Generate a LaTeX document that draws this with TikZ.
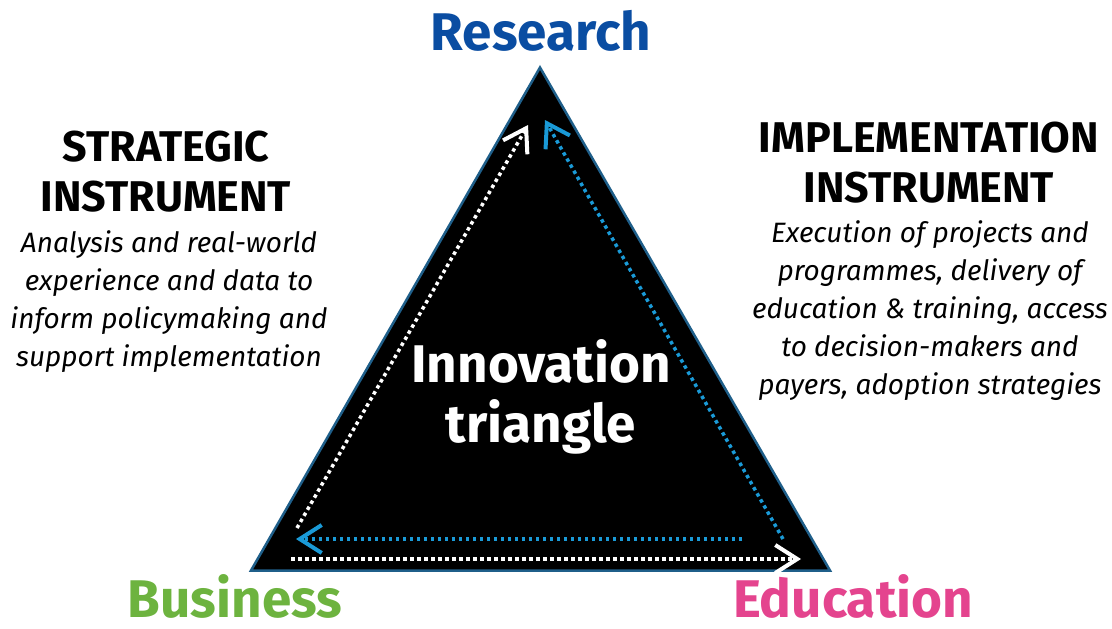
\documentclass[tikz,border=0pt]{standalone}
\usepackage{fontspec}
\setmainfont{Fira Sans}
\usetikzlibrary{arrows.meta}
\definecolor{resblue}{HTML}{0A4DA2}
\definecolor{busgreen}{HTML}{6DB33F}
\definecolor{edupink}{HTML}{E4448E}
\definecolor{edgeblue}{HTML}{1F5F8A}
\definecolor{flowblue}{HTML}{1A9AD7}
\begin{document}
\begin{tikzpicture}[x=1pt,y=-1pt,
  corner/.style={font=\fontsize{53}{60}\selectfont\bfseries, anchor=base, inner sep=0pt},
  head/.style={font=\fontsize{43}{50}\selectfont\bfseries, anchor=base, inner sep=0pt},
  desc/.style={font=\fontsize{28}{34}\selectfont\itshape, anchor=base, inner sep=0pt},
  flow/.style={line width=3.5pt, line cap=butt, dash pattern=on 3.5pt off 3.5pt,
    -{Straight Barb[length=22pt,width=28pt,line width=4pt]}},
]
\useasboundingbox (0,0) rectangle (1112,629);

% triangle corners
\coordinate (top) at (540,67.5);
\coordinate (bl) at (251,570.5);
\coordinate (br) at (830,570.5);
\fill[black] (top) -- (br) -- (bl) -- cycle;
\draw[edgeblue, line width=2.5pt, line join=miter] (top) -- (br) -- (bl) -- cycle;

% flow arrows inside the triangle
\coordinate (w1s) at (297,528);
\coordinate (w1e) at (528,125);
\coordinate (b1s) at (783,539);
\coordinate (b1e) at (545,120);
\coordinate (b2s) at (742,539);
\coordinate (b2e) at (296,539);
\coordinate (w2s) at (291,559);
\coordinate (w2e) at (801,559);
\draw[flow, white] (w1s) -- (w1e);
\draw[flow, flowblue] (b1s) -- (b1e);
\draw[flow, flowblue] (b2s) -- (b2e);
\draw[flow, white] (w2s) -- (w2e);

% corner labels
\node[corner, resblue] (research) at (541,50) {Research};
\node[corner, busgreen] (business) at (235,617) {Business};
\node[corner, edupink] (education) at (853,617) {Education};

% centre title
\node[corner, white] (title1) at (541,382) {Innovation};
\node[corner, white] (title2) at (541,442) {triangle};

% left column
\node[head] (sh1) at (166,161) {STRATEGIC};
\node[head] (sh2) at (166,211) {INSTRUMENT};
\node[desc] (sd1) at (169,252) {Analysis and real-world};
\node[desc] (sd2) at (169,290) {experience and data to};
\node[desc] (sd3) at (169,328) {inform policymaking and};
\node[desc] (sd4) at (169,366) {support implementation};

% right column
\node[head] (ih1) at (929,152) {IMPLEMENTATION};
\node[head] (ih2) at (929,202) {INSTRUMENT};
\node[desc] (id1) at (930,242) {Execution of projects and};
\node[desc] (id2) at (930,280) {programmes, delivery of};
\node[desc] (id3) at (930,318) {education \& training, access};
\node[desc] (id4) at (930,356) {to decision-makers and};
\node[desc] (id5) at (930,394) {payers, adoption strategies};
\end{tikzpicture}
\end{document}
